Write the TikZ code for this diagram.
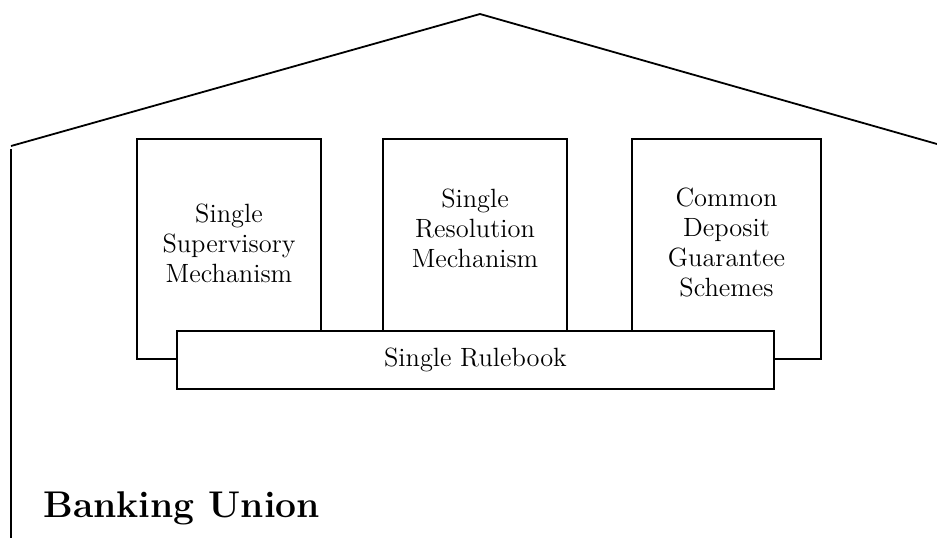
\documentclass[tikz,border=0pt]{standalone}
\usetikzlibrary{positioning}

\begin{document}
\begin{tikzpicture}[
	x=0.5pt, y=-0.5pt,
	pillar/.style={rectangle, draw, line width=0.8pt, fill=white, minimum width=92pt, minimum height=110pt, inner sep=0pt},
	pilltext/.style={align=center, font=\fontsize{13.2}{15}\selectfont},
	base/.style={rectangle, draw, line width=0.8pt, fill=white, minimum width=298.5pt, minimum height=29pt, inner sep=0pt, font=\fontsize{13.2}{15}\selectfont},
	wall/.style={line width=0.9pt}
]
	\useasboundingbox (0,0) rectangle (937,538);

	% Roof and wall
	\coordinate (eaveL) at (11,146);
	\coordinate (ridge) at (480,14);
	\coordinate (eaveR) at (937,144);
	\draw[wall] (eaveL) -- (ridge) -- (eaveR);
	\draw[wall] (11,149) -- (11,538);

	% Pillars
	\node[pillar] (ssm) at (229,249) {};
	\node[pillar] (srm) at (475,249) {};
	\node[pillar, minimum width=94.5pt] (dgs) at (726.5,249) {};
	\node[pilltext] at ([yshift=3pt]ssm.center) {Single\\Supervisory\\Mechanism};
	\node[pilltext] at ([yshift=10.5pt]srm.center) {Single\\Resolution\\Mechanism};
	\node[pilltext] at ([yshift=3.5pt]dgs.center) {Common\\Deposit\\Guarantee\\Schemes};

	% Foundation
	\node[base] (rulebook) at (475.5,360) {Single Rulebook};

	% Title
	\node[anchor=base west, inner sep=0pt, font=\fontsize{18.6}{22}\selectfont\bfseries] (title) at (43,517) {Banking Union};
\end{tikzpicture}
\end{document}
